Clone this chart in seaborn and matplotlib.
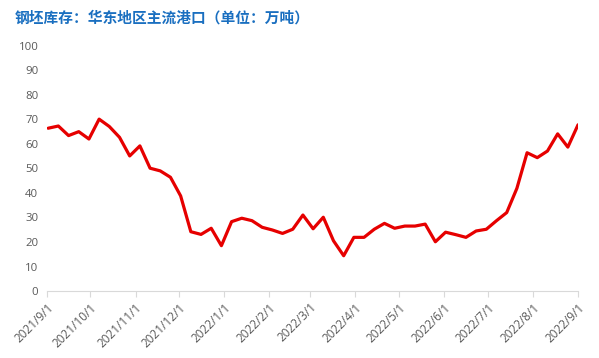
import pandas as pd
import matplotlib
matplotlib.use("Agg")
import matplotlib.pyplot as plt
import matplotlib.dates as mdates
import seaborn as sns
import numpy as np

# データ（週次、2021/9/2 ～ 2022/9/1）
start_date = "2021-09-02"
n_weeks = 53
stock = [66.4, 67.3, 63.4, 65.0, 62.0, 70.1, 67.1, 62.7, 55.1, 59.2,
         50.1, 49.0, 46.4, 38.8, 24.2, 23.1, 25.6, 18.5, 28.3, 29.7,
         28.7, 26.0, 24.9, 23.5, 25.2, 31.0, 25.4, 30.1, 20.5, 14.4,
         21.9, 21.9, 25.2, 27.6, 25.6, 26.5, 26.5, 27.3, 20.1, 24.0,
         23.0, 21.9, 24.5, 25.2, 28.7, 32.0, 41.9, 56.4, 54.4, 57.1,
         64.1, 58.7, 67.8]
tick_dates = ["2021-09-01", "2021-10-01", "2021-11-01", "2021-12-01", "2022-01-01",
              "2022-02-01", "2022-03-01", "2022-04-01", "2022-05-01", "2022-06-01",
              "2022-07-01", "2022-08-01", "2022-09-01"]
tick_labels = ["2021/9/1", "2021/10/1", "2021/11/1", "2021/12/1", "2022/1/1",
               "2022/2/1", "2022/3/1", "2022/4/1", "2022/5/1", "2022/6/1",
               "2022/7/1", "2022/8/1", "2022/9/1"]
y_ticks = [0, 10, 20, 30, 40, 50, 60, 70, 80, 90, 100]
title = "钢坯库存：华东地区主流港口（单位：万吨）"

df = pd.DataFrame({
    "date": pd.date_range(start_date, periods=n_weeks, freq="7D"),
    "stock": stock,
})

sns.set_style("white")
plt.rcParams['font.family'] = ['Open Sans', 'Noto Sans CJK SC', 'DejaVu Sans']

fig = plt.figure(figsize=(5.99, 3.58), dpi=100)
ax = fig.add_axes([0.078, 0.187, 0.887, 0.685])

sns.lineplot(data=df, x="date", y="stock", ax=ax, color="#e60000", linewidth=2.3)

ax.set_xlim(pd.Timestamp(tick_dates[0]), pd.Timestamp(tick_dates[-1]))
ax.set_ylim(0, 100)
ax.set_xticks([mdates.date2num(pd.Timestamp(d)) for d in tick_dates])
ax.set_xticklabels(tick_labels, rotation=45, ha="right", rotation_mode="anchor")
ax.set_yticks(y_ticks)
ax.set_yticklabels([str(v) for v in y_ticks])
ax.set_xlabel("")
ax.set_ylabel("")

for s in ["top", "right", "left"]:
    ax.spines[s].set_visible(False)
ax.spines["bottom"].set_color("#d9d9d9")
ax.spines["bottom"].set_linewidth(0.8)
ax.tick_params(axis="x", colors="#595959", labelsize=8.5, length=4, width=0.8,
               direction="out", pad=3, bottom=True)
ax.tick_params(axis="x", color="#d9d9d9")
ax.tick_params(axis="y", colors="#595959", labelsize=8.2, length=0, pad=6)
ax.grid(False)

fig.text(0.025, 0.952, title, color="#1a6fc0", fontsize=10.6, fontweight="bold",
         family=["Noto Sans CJK SC", "DejaVu Sans"], va="center", ha="left")

fig.savefig("out.png", dpi=100)
